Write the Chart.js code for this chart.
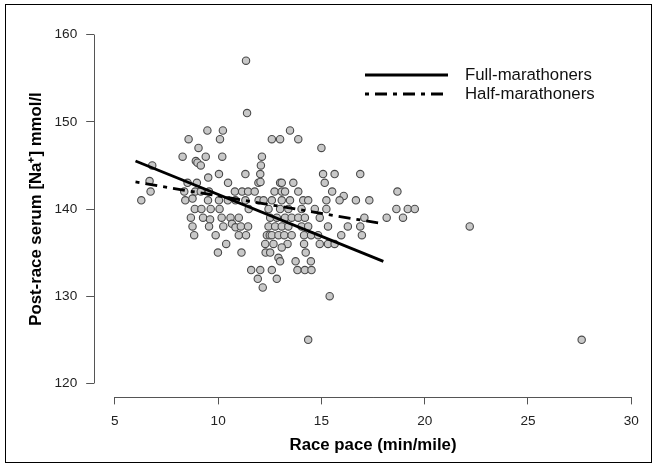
<!DOCTYPE html>
<html><head><meta charset="utf-8">
<script src="https://cdn.jsdelivr.net/npm/chart.js@4.4.0/dist/chart.umd.min.js"></script>
<style>html,body{margin:0;padding:0;background:#fff}</style>
</head><body>
<canvas id="c" width="657" height="467"></canvas>
<script>
// ---- data ----
const paceX = [
 11.35,
 11.4,
 9.48,10.23,13.48,
 8.57,10.09,12.6,13.0,13.88,
 9.05,15.0,
 8.28,9.4,10.2,12.12,
 8.92,9.0,9.16,6.81,12.07,
 10.04,11.32,12.04,15.08,15.64,16.88,
 9.52,
 6.68,8.52,8.97,10.48,11.95,12.05,13.0,13.08,13.64,15.16,
 6.73,8.36,8.89,9.16,9.56,10.81,11.16,11.45,11.77,12.73,13.08,13.24,13.88,15.52,18.68,
 16.08,
 6.28,8.41,8.76,9.51,10.04,10.47,10.84,11.32,11.96,12.2,12.6,13.08,13.48,14.12,14.36,15.24,15.88,16.67,17.32,
 8.87,9.19,9.64,10.07,11.48,12.44,13.0,13.4,14.04,14.68,15.24,18.63,19.18,19.52,
 8.68,9.27,10.17,10.6,11.0,12.52,12.84,13.24,13.56,13.88,14.2,14.92,17.08,18.16,18.95,
 9.61,
 8.76,9.56,10.25,10.67,10.84,11.1,11.45,12.44,12.76,13.08,13.4,14.04,14.36,15.32,16.28,16.88,22.18,
 8.84,9.88,11.0,11.35,12.36,12.5,12.6,12.92,13.2,13.56,14.16,14.5,14.84,15.96,16.96,
 10.39,12.28,12.68,13.36,14.16,14.92,15.32,15.64,
 13.08,
 9.99,11.13,12.3,12.52,14.24,
 12.92,13.0,13.75,14.49,
 11.6,12.04,12.6,13.84,14.2,14.52,
 11.92,12.84,
 12.16,
 15.4,
 14.36,27.6
];
const sodiumY = [
 157,
 151,
 149,149,149,
 148,148,148,148,148,
 147,147,
 146,146,146,146,
 145.5,145.3,145,145,145,
 144,144,144,144,144,144,
 143.6,
 143.2,143,143,143,143,143.1,143,143,143,143,
 142,142,142,142,142,142,142,142,142,142,142,142,142,142,142,
 141.5,
 141,141,141.2,141,141,141,141,141,141,141,141,141,141,141,141,141,141,141,141,
 140,140,140,140,140,140,140,140,140,140,140,140,140,140,
 139,139,139,139,139,139,139,139,139,139,139,139,139,139,139,
 138.8,
 138,138,138,138.3,137.9,138,138,138,138,138,138,138,138,138,138,138,138,
 137,137,137,137,137,137,137,137,137,137,137,137,137,137,137,
 136,136,136,136,136,136,136,136,
 135.6,
 135,135,135,135,135,
 134.4,134,134,134,
 133,133,133,133,133,133,
 132,132,
 131,
 130,
 125,125
];
const fullFitX = [6.0, 18.0];
const fullFitY = [145.5, 134.0];
const halfFitX = [6.0, 18.0];
const halfFitY = [143.1, 138.3];
const xTicks = [5, 10, 15, 20, 25, 30];
const yTicks = [120, 130, 140, 150, 160];
const seriesLabels = ['Full-marathoners', 'Half-marathoners'];
const xTitle = 'Race pace (min/mile)';
const yTitle = 'Post-race serum [Na\u207A] mmol/l';

const FONT = "'Liberation Sans', Arial, Helvetica, sans-serif";
const toPts = (xs, ys) => xs.map((x, i) => ({x: x, y: ys[i]}));

const rAxesPlugin = {
  id: 'rAxes',
  beforeDraw(chart) {
    const ctx = chart.ctx;
    ctx.save();
    ctx.fillStyle = '#fff';
    ctx.fillRect(0, 0, chart.width, chart.height);
    ctx.strokeStyle = '#000';
    ctx.lineWidth = 1;
    ctx.strokeRect(5.5, 4.5, 646, 458);
    ctx.restore();
  },
  afterDraw(chart) {
    const ctx = chart.ctx, xs = chart.scales.x, ys = chart.scales.y;
    const ca = chart.chartArea;
    ctx.save();
    ctx.strokeStyle = '#555';
    ctx.lineWidth = 1;
    ctx.beginPath();
    const yl = Math.round(ca.bottom) + 0.5;
    ctx.moveTo(xs.getPixelForValue(xTicks[0]), yl);
    ctx.lineTo(xs.getPixelForValue(xTicks[xTicks.length - 1]), yl);
    const xl = Math.round(ca.left) + 0.5;
    ctx.moveTo(xl, ys.getPixelForValue(yTicks[0]));
    ctx.lineTo(xl, ys.getPixelForValue(yTicks[yTicks.length - 1]));
    ctx.stroke();

    // legend
    const lx0 = 365, lx1 = 448, tx = 465;
    const rows = [75, 94];
    seriesLabels.forEach((lab, i) => {
      const ds = chart.data.datasets.find(d => d.label === lab);
      if (!ds) return;
      ctx.strokeStyle = ds.borderColor;
      ctx.lineWidth = ds.borderWidth;
      ctx.lineCap = 'butt';
      ctx.setLineDash(ds.borderDash || []);
      ctx.beginPath();
      ctx.moveTo(lx0, rows[i]);
      ctx.lineTo(lx1, rows[i]);
      ctx.stroke();
      ctx.setLineDash([]);
      ctx.fillStyle = '#111';
      ctx.font = '16.8px ' + FONT;
      ctx.textBaseline = 'middle';
      ctx.textAlign = 'left';
      ctx.fillText(lab, tx, rows[i]);
    });
    ctx.restore();
  }
};

new Chart(document.getElementById('c'), {
  type: 'scatter',
  data: {
    datasets: [
      {
        label: seriesLabels[0], type: 'line', data: toPts(fullFitX, fullFitY),
        borderColor: '#000', borderWidth: 2.8, pointRadius: 0, fill: false,
        borderCapStyle: 'butt', order: 0
      },
      {
        label: seriesLabels[1], type: 'line', data: toPts(halfFitX, halfFitY),
        borderColor: '#000', borderWidth: 2.8, borderDash: [4, 6, 12, 6], pointRadius: 0, fill: false,
        borderCapStyle: 'butt', order: 0
      },
      {
        label: 'Runners', data: toPts(paceX, sodiumY),
        pointRadius: 3.7, pointBorderWidth: 1.1,
        backgroundColor: '#c8c8c8', borderColor: '#4a4a4a', order: 1
      }
    ]
  },
  options: {
    responsive: false,
    animation: false,
    devicePixelRatio: 1,
    layout: {padding: {left: 26, top: 20.6, right: 0, bottom: 12}},
    plugins: {legend: {display: false}, tooltip: {enabled: false}},
    scales: {
      x: {
        type: 'linear', position: 'bottom', min: 4, max: 31,
        afterBuildTicks: s => { s.ticks = xTicks.map(v => ({value: v})); },
        afterFit: s => { s.height = 57.6; },
        grid: {drawOnChartArea: false, drawTicks: true, tickLength: 7, color: '#555', lineWidth: 1},
        border: {display: false},
        ticks: {color: '#222', font: {family: FONT, size: 13.6}, padding: 9, maxRotation: 0, autoSkip: false},
        title: {display: true, text: xTitle, color: '#000', font: {family: FONT, size: 16.8, weight: 'bold'}, padding: {top: 0, bottom: 0}}
      },
      y: {
        type: 'linear', position: 'left', min: 118.4, max: 161.6,
        afterBuildTicks: s => { s.ticks = yTicks.map(v => ({value: v})); },
        afterFit: s => { s.width = 68.2; },
        grid: {drawOnChartArea: false, drawTicks: true, tickLength: 8, color: '#555', lineWidth: 1},
        border: {display: false},
        ticks: {color: '#222', font: {family: FONT, size: 13.6}, padding: 9, autoSkip: false},
        title: {display: true, text: yTitle, color: '#000', font: {family: FONT, size: 16.8, weight: 'bold'}, padding: {top: 0, bottom: 0}}
      }
    }
  },
  plugins: [rAxesPlugin]
});
</script>
</body></html>
